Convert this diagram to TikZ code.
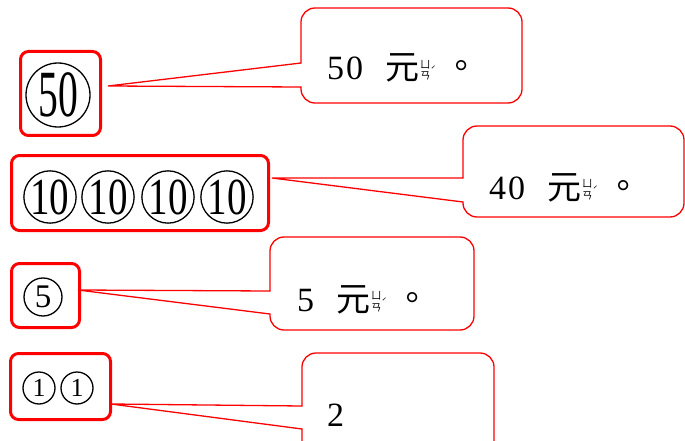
\documentclass[tikz,border=0pt]{standalone}
\usepackage{fontspec}
\usepackage{graphicx}
\setmainfont{Liberation Serif}
\newfontfamily\cjk{Noto Sans CJK TC}
\newcommand\zy{\kern1pt{\fontsize{10.5}{10.5}\selectfont\cjk\shortstack[c]{ㄩ\\ㄢ}}\raisebox{6pt}{\fontsize{9}{9}\selectfont\cjk ˊ}}
\newcommand\price[1]{#1\hspace{22pt}{\cjk 元}\zy\hspace{8pt}\raisebox{1pt}{\cjk 。}}
\tikzset{
  coinbox/.style={draw=red, line width=3pt, rounded corners=8pt, inner sep=0pt},
  callline/.style={draw=red, line width=1.3pt, line cap=round},
  coin/.style={circle, draw=black, line width=1.3pt, inner sep=0pt},
  pricetext/.style={font=\fontsize{34}{34}\selectfont, anchor=base west, inner sep=0pt},
}
\begin{document}
\begin{tikzpicture}[x=1pt,y=-1pt]
\useasboundingbox (0,0) rectangle (685,441);
\clip (0,0) rectangle (685,441);
% coin boxes
\node[coinbox, minimum width=80pt, minimum height=84pt] (b1) at (60.5,93.5) {};
\node[coinbox, minimum width=257pt, minimum height=75pt] (b2) at (140,193) {};
\node[coinbox, minimum width=68pt, minimum height=64pt] (b3) at (45.5,295.5) {};
\node[coinbox, minimum width=100pt, minimum height=66pt] (b4) at (60.5,386.5) {};
% coins
\node[coin, minimum size=64pt] (k50) at (58,95) {\scalebox{0.6}[1]{\fontsize{66}{66}\selectfont 50}};
\node[coin, minimum size=50pt] (k10a) at (50,197) {\scalebox{0.75}[1]{\fontsize{52}{52}\selectfont 10}};
\node[coin, minimum size=50pt] (k10b) at (108,197) {\scalebox{0.75}[1]{\fontsize{52}{52}\selectfont 10}};
\node[coin, minimum size=50pt] (k10c) at (168,197) {\scalebox{0.75}[1]{\fontsize{52}{52}\selectfont 10}};
\node[coin, minimum size=50pt] (k10d) at (227,197) {\scalebox{0.75}[1]{\fontsize{52}{52}\selectfont 10}};
\node[coin, minimum size=38pt] (k5) at (43,297) {\fontsize{33}{33}\selectfont 5};
\node[coin, minimum size=32pt] (k1a) at (39,388) {\fontsize{26}{26}\selectfont 1};
\node[coin, minimum size=32pt] (k1b) at (77,388) {\fontsize{26}{26}\selectfont 1};
% tail tips
\coordinate (t1) at (108,86);
\coordinate (t2) at (272,178);
\coordinate (t3) at (78,290);
\coordinate (t4) at (111,404);
% callouts
\draw[callline, rounded corners=14pt] (301,63) -- (301,8) -- (522,8) -- (522,103) -- (301,103) -- (301,87);
\draw[callline] (301,63) -- (t1) -- (301,87);
\draw[callline, rounded corners=14pt] (463,178) -- (463,126) -- (684,126) -- (684,217) -- (463,217) -- (463,202);
\draw[callline] (463,178) -- (t2) -- (463,202);
\draw[callline, rounded corners=14pt] (270,291) -- (270,237) -- (474,237) -- (474,330) -- (270,330) -- (270,314);
\draw[callline] (270,291) -- (t3) -- (270,314);
\draw[callline, rounded corners=14pt] (302,406) -- (302,353) -- (494,353) -- (494,475) -- (302,475) -- (302,429);
\draw[callline] (302,406) -- (t4) -- (302,429);
% texts
\node[pricetext] (p1) at (327,80) {\price{5\kern2pt0}};
\node[pricetext] (p2) at (489,199) {\price{4\kern2pt0}};
\node[pricetext] (p3) at (297,311) {\price{5}};
\node[pricetext] (p4) at (327,426) {2};
\end{tikzpicture}
\end{document}
